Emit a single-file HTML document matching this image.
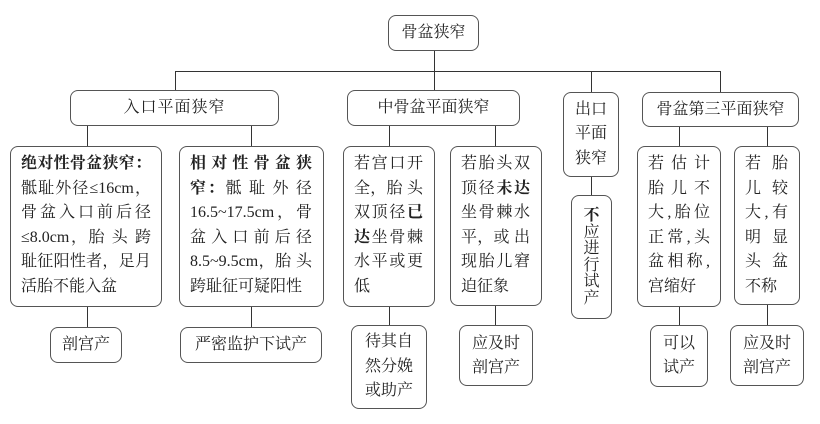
<!DOCTYPE html>
<html><head><meta charset="utf-8"><style>
body{margin:0;width:820px;height:424px;background:#fff;position:relative;overflow:hidden;font-family:"Liberation Serif","Noto Serif CJK SC",serif;color:#222;}
.b{position:absolute;border:1.3px solid #555;border-radius:8px;box-sizing:border-box;background:#fff;}
.c{display:flex;align-items:center;justify-content:center;font-size:16px;text-align:center;line-height:24px;}
.t{font-size:16px;line-height:24.6px;}
.t div{text-align:justify;text-align-last:justify;white-space:nowrap;}
.t div.l{text-align-last:left;}
.h{position:absolute;background:#333;height:1.3px;}
.v{position:absolute;background:#333;width:1.3px;}
b{font-weight:bold;}
</style></head><body>
<!-- lines -->
<div class="v" style="left:434px;top:51px;height:20px"></div>
<div class="h" style="left:175px;top:71px;width:546px"></div>
<div class="v" style="left:175px;top:71px;height:19px"></div>
<div class="v" style="left:434px;top:71px;height:19px"></div>
<div class="v" style="left:591px;top:71px;height:21px"></div>
<div class="v" style="left:720px;top:71px;height:21px"></div>
<div class="v" style="left:87px;top:126px;height:20px"></div>
<div class="v" style="left:251px;top:126px;height:20px"></div>
<div class="v" style="left:389px;top:126px;height:20px"></div>
<div class="v" style="left:495px;top:126px;height:20px"></div>
<div class="v" style="left:591px;top:177px;height:18px"></div>
<div class="v" style="left:679px;top:127px;height:19px"></div>
<div class="v" style="left:767px;top:127px;height:19px"></div>
<div class="v" style="left:87px;top:307px;height:20px"></div>
<div class="v" style="left:251px;top:307px;height:20px"></div>
<div class="v" style="left:389px;top:307px;height:18px"></div>
<div class="v" style="left:495px;top:306px;height:19px"></div>
<div class="v" style="left:679px;top:307px;height:18px"></div>
<div class="v" style="left:767px;top:305px;height:20px"></div>

<div class="b c" style="left:388px;top:15px;width:91px;height:36px">骨盆狭窄</div>
<div class="b c" style="left:70px;top:90px;width:209px;height:36px;letter-spacing:1px">入口平面狭窄</div>
<div class="b c" style="left:347px;top:90px;width:173px;height:36px">中骨盆平面狭窄</div>
<div class="b c" style="left:563px;top:92px;width:56px;height:85px;line-height:24.5px">出口<br>平面<br>狭窄</div>
<div class="b c" style="left:642px;top:92px;width:157px;height:35px">骨盆第三平面狭窄</div>

<div class="b t" style="left:10px;top:146px;width:152px;height:161px;padding:5px 10px 0 10px">
<div><b>绝对性骨盆狭窄：</b></div><div>骶耻外径≤16cm，</div><div>骨盆入口前后径</div><div>≤8.0cm，胎 头 跨</div><div>耻征阳性者，足月</div><div class="l">活胎不能入盆</div></div>
<div class="b t" style="left:179px;top:146px;width:145px;height:161px;padding:5px 11px 0 10px">
<div><b>相 对 性 骨 盆 狭</b></div><div><b>窄：</b>骶 耻 外 径</div><div>16.5~17.5cm，骨</div><div>盆 入 口 前 后 径</div><div>8.5~9.5cm，胎 头</div><div class="l">跨耻征可疑阳性</div></div>
<div class="b t" style="left:343px;top:146px;width:92px;height:161px;padding:5px 11px 0 10px">
<div>若宫口开</div><div>全，胎 头</div><div>双顶径<b>已</b></div><div><b>达</b>坐骨棘</div><div>水平或更</div><div class="l">低</div></div>
<div class="b t" style="left:450px;top:146px;width:92px;height:160px;padding:5px 11px 0 10px">
<div>若胎头双</div><div>顶径<b>未达</b></div><div>坐骨棘水</div><div>平，或 出</div><div>现胎儿窘</div><div class="l">迫征象</div></div>
<div class="b" style="left:571px;top:195px;width:41px;height:124px;font-size:16px;line-height:16.5px;text-align:center;padding-top:12px"><b>不</b><br>应<br>进<br>行<br>试<br>产</div>
<div class="b t" style="left:637px;top:146px;width:84px;height:161px;padding:5px 10px 0 10px">
<div>若 估 计</div><div>胎 儿 不</div><div>大,胎位</div><div>正常,头</div><div>盆相称,</div><div class="l">宫缩好</div></div>
<div class="b t" style="left:734px;top:146px;width:66px;height:159px;padding:5px 11px 0 10px">
<div>若 胎</div><div>儿 较</div><div>大,有</div><div>明 显</div><div>头 盆</div><div class="l">不称</div></div>

<div class="b c" style="left:50px;top:327px;width:72px;height:36px">剖宫产</div>
<div class="b c" style="left:180px;top:327px;width:142px;height:36px">严密监护下试产</div>
<div class="b c" style="left:351px;top:325px;width:76px;height:84px;line-height:24.5px">待其自<br>然分娩<br>或助产</div>
<div class="b c" style="left:459px;top:325px;width:74px;height:61px">应及时<br>剖宫产</div>
<div class="b c" style="left:650px;top:325px;width:58px;height:62px">可以<br>试产</div>
<div class="b c" style="left:730px;top:325px;width:74px;height:61px">应及时<br>剖宫产</div>
</body></html>
